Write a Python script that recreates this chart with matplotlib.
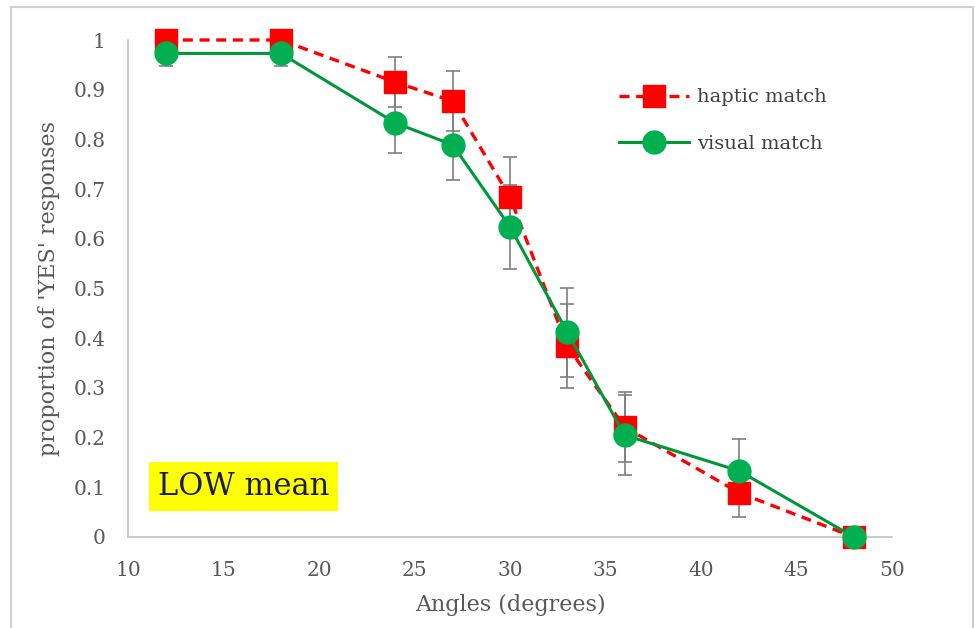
import numpy as np
import matplotlib.pyplot as plt
from matplotlib.patches import Rectangle

# Datos
angles = [12, 18, 24, 27, 30, 33, 36, 42, 48]
haptic = [1.0, 1.0, 0.915, 0.877, 0.684, 0.384, 0.221, 0.089, 0.0]
visual = [0.973, 0.973, 0.833, 0.789, 0.624, 0.412, 0.205, 0.133, 0.0]
haptic_err = [0.0, 0.0, 0.05, 0.06, 0.08, 0.085, 0.07, 0.048, 0.0]
visual_err = [0.025, 0.025, 0.06, 0.07, 0.085, 0.09, 0.08, 0.064, 0.0]
x_ticks = [10, 15, 20, 25, 30, 35, 40, 45, 50]
y_ticks = [0, 0.1, 0.2, 0.3, 0.4, 0.5, 0.6, 0.7, 0.8, 0.9, 1]
y_ticklabels = ['0', '0.1', '0.2', '0.3', '0.4', '0.5', '0.6', '0.7', '0.8', '0.9', '1']

plt.rcParams['font.family'] = ['DejaVu Serif']

W, H = 975, 628
fig = plt.figure(figsize=(W / 100, H / 100), dpi=100)
ax = fig.add_axes([128 / W, (H - 537) / H, 764 / W, 497 / H])

# marco exterior
fig.patches.append(Rectangle((11 / W, -0.02), 962 / W, 1 - 7 / H + 0.02,
                             transform=fig.transFigure, fill=False,
                             edgecolor='#d0d0d0', linewidth=1.5))

gray = '#7f7f7f'
ax.errorbar(angles, haptic, yerr=haptic_err, fmt='none', ecolor=gray,
            elinewidth=1.2, capsize=5, capthick=1.2, zorder=2, clip_on=False)
ax.errorbar(angles, visual, yerr=visual_err, fmt='none', ecolor=gray,
            elinewidth=1.2, capsize=5, capthick=1.2, zorder=2, clip_on=False)

ax.plot(angles, haptic, linestyle=(0, (3, 2)), color='#ff0000', linewidth=2.4,
        marker='s', markersize=15.5, markerfacecolor='#ff0000',
        markeredgecolor='#ff0000', label='haptic match', zorder=3, clip_on=False)
ax.plot(angles, visual, linestyle='-', color='#00973a', linewidth=2.2,
        marker='o', markersize=16.5, markerfacecolor='#00b050',
        markeredgecolor='#00b050', label='visual match', zorder=4, clip_on=False)

ax.set_xlim(10, 50)
ax.set_ylim(0, 1)
ax.set_xticks(x_ticks)
ax.set_yticks(y_ticks)
ax.set_yticklabels(y_ticklabels)
ax.tick_params(length=0, labelsize=14.5, labelcolor='#595959')
ax.tick_params(axis='y', pad=16)
ax.tick_params(axis='x', pad=17)

for s in ['top', 'right']:
    ax.spines[s].set_visible(False)
for s in ['left', 'bottom']:
    ax.spines[s].set_color('#c8c8c8')
    ax.spines[s].set_linewidth(1.3)

ax.set_xlabel('Angles (degrees)', fontsize=16, color='#595959', labelpad=10)
ax.set_ylabel("proportion of 'YES' responses", fontsize=16, color='#595959', labelpad=10)

ax.text(16.05, 0.102, 'LOW mean', fontsize=22, color='#1a1a5e',
        ha='center', va='center',
        bbox=dict(boxstyle='square,pad=0.3', facecolor='#ffff00', edgecolor='none'))

leg = ax.legend(loc='upper left', bbox_to_anchor=(0.62, 0.938), frameon=False,
                fontsize=14, handlelength=3.6, labelspacing=1.45, handletextpad=0.4)
for t in leg.get_texts():
    t.set_color('#404040')

fig.savefig('out.png', dpi=100)
